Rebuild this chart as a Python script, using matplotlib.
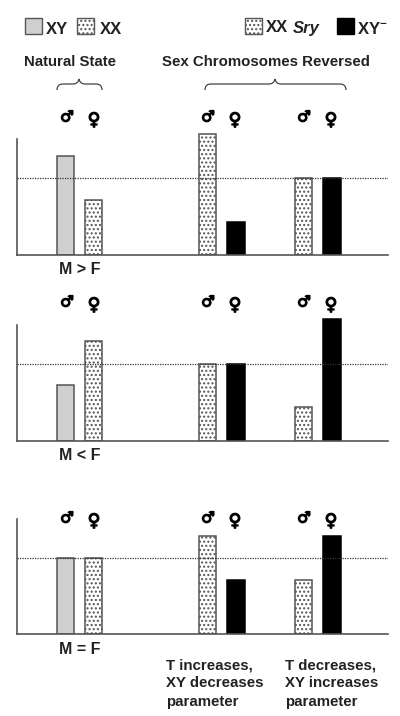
import matplotlib
matplotlib.use("Agg")
import matplotlib.pyplot as plt
import matplotlib.patheffects as pe
from matplotlib.patches import Rectangle, PathPatch
from matplotlib.path import Path

plt.rcParams["font.family"] = ["Liberation Sans", "DejaVu Sans"]
plt.rcParams["mathtext.fontset"] = "custom"
plt.rcParams["mathtext.bf"] = "Liberation Sans:bold"
plt.rcParams["hatch.linewidth"] = 1.0
plt.rcParams["hatch.color"] = "#666666"

# bar heights, 100 = dotted reference level
positions = [0, 1, 5.07, 6.09, 8.5, 9.52]
genotypes = ["XY", "XX", "XX Sry", "XY-", "XX Sry", "XY-"]
panel_gt = [129, 71, 157, 43, 100, 100]
panel_lt = [73, 130, 100, 100, 44, 158]
panel_eq = [100, 100, 129, 71, 71, 129]
values = [panel_gt, panel_lt, panel_eq]
captions = ["M > F", "M < F", "M = F"]
baselines = [255, 441, 634]   # pixels from top
axis_tops = [139, 325, 519]
ref_px = [77, 77, 76]
symbol_y = [117, 302, 518]

W, H = 400, 716
GREY = "#555555"
TEXT = "#222222"
styles = {
    "XY": dict(facecolor="#d0d0d0", edgecolor=GREY),
    "XX": dict(facecolor="white", edgecolor=GREY, hatch="...."),
    "XX Sry": dict(facecolor="white", edgecolor=GREY, hatch="...."),
    "XY-": dict(facecolor="black", edgecolor="black"),
}

fig = plt.figure(figsize=(W / 100, H / 100), dpi=100)

# overlay in pixel coordinates for the labels, legend and braces
ov = fig.add_axes([0, 0, 1, 1], zorder=5)
ov.set_xlim(0, W)
ov.set_ylim(H, 0)
ov.axis("off")

stroke = [pe.withStroke(linewidth=0.9, foreground="black")]

for vals, cap, base, top, ref, sy in zip(values, captions, baselines, axis_tops, ref_px, symbol_y):
    ax = fig.add_axes([17 / W, (H - base) / H, 371 / W, 135 / H])
    ax.set_xlim(-1.73, 11.52)
    ax.set_ylim(0, 135 / ref * 100)
    for x, v, g in zip(positions, vals, genotypes):
        ax.bar(x, v, width=0.62, linewidth=1.1, zorder=2, **styles[g])
    ax.axhline(100, color="#333333", lw=0.9, ls=(0, (1, 1)), zorder=3)
    for s in ["top", "right"]:
        ax.spines[s].set_visible(False)
    ax.spines["left"].set_bounds(0, (base - top) / ref * 100)
    for s in ["left", "bottom"]:
        ax.spines[s].set_color(GREY)
        ax.spines[s].set_linewidth(1.2)
    ax.set_xticks([])
    ax.set_yticks([])
    ax.patch.set_alpha(0)

    ov.text(80, base + 15, cap, ha="center", va="center", fontsize=11.5, fontweight="bold", color=TEXT)
    # sex symbols above each pair
    for mx, fx in [(67, 94), (208, 235), (304, 331)]:
        ov.text(mx, sy, "\u2642", ha="center", va="center", fontsize=11, fontweight="bold",
                family="DejaVu Sans", color="black", path_effects=stroke)
        ov.text(fx, sy + 3, "\u2640", ha="center", va="center", fontsize=12.5, fontweight="bold",
                family="DejaVu Sans", color="black", path_effects=stroke)

# legend
for x, key in [(25, "XY"), (77, "XX"), (245, "XX Sry"), (337, "XY-")]:
    ov.add_patch(Rectangle((x, 18), 17, 16, linewidth=1, **styles[key]))
t = dict(va="center", fontsize=12, fontweight="bold", color=TEXT)
ov.text(46, 29, "XY", **t)
ov.text(100, 29, "XX", **t)
ov.text(266, 28, "XX", **t)
ov.text(293, 28, "Sry", style="italic", **t)
ov.text(357, 29, r"XY$^{\mathbf{-}}$", **t)

# group titles
t2 = dict(ha="center", va="center", fontsize=10.8, fontweight="bold", color=TEXT)
ov.text(70, 62, "Natural State", **t2)
ov.text(266, 62, "Sex Chromosomes Reversed", **t2)


def brace(x0, x1, tip):
    y0, y1, yt = 90, 84, 79
    verts = [(x0, y0), (x0, y1), (x0 + 6, y1), (tip - 6, y1), (tip - 1, y1), (tip, yt),
             (tip + 1, y1), (tip + 6, y1), (x1 - 6, y1), (x1, y1), (x1, y0)]
    codes = [Path.MOVETO, Path.CURVE3, Path.CURVE3, Path.LINETO, Path.CURVE3, Path.CURVE3,
             Path.CURVE3, Path.CURVE3, Path.LINETO, Path.CURVE3, Path.CURVE3]
    ov.add_patch(PathPatch(Path(verts, codes), fill=False, edgecolor="#444444", lw=0.9))


brace(57, 102, 79)
brace(205, 346, 275)

# bottom notes
t3 = dict(ha="left", va="top", fontsize=10.8, fontweight="bold", color=TEXT, linespacing=1.39)
ov.text(166, 658, "T increases,\nXY decreases\nparameter", **t3)
ov.text(285, 658, "T decreases,\nXY increases\nparameter", **t3)

fig.savefig("out.png", dpi=100)
